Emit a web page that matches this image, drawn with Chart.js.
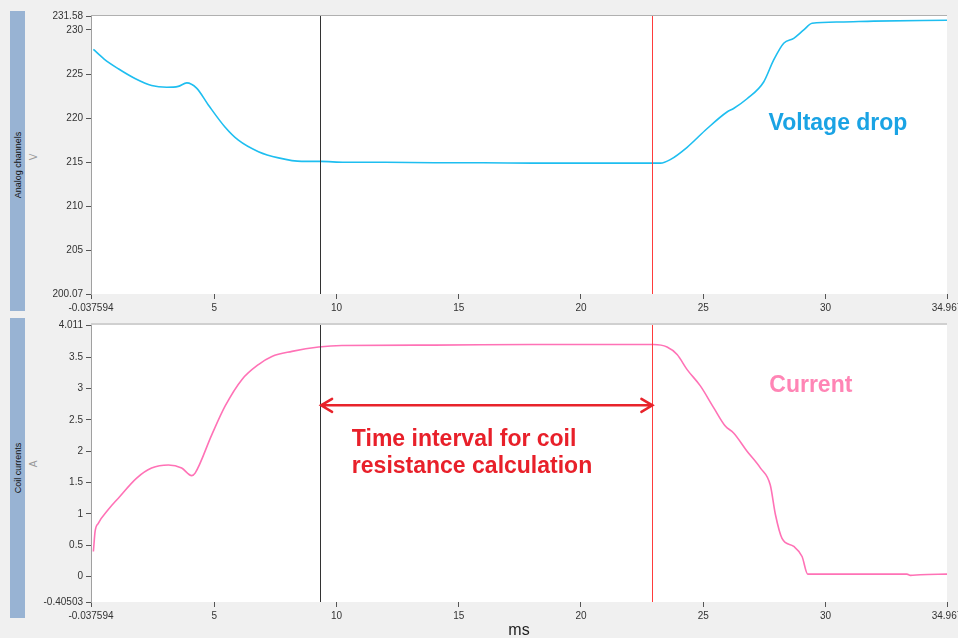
<!DOCTYPE html>
<html>
<head>
<meta charset="utf-8">
<script src="https://cdn.jsdelivr.net/npm/chart.js@4.4.1/dist/chart.umd.min.js"></script>
<style>
    body {
        margin: 0;
        width: 958px;
        height: 638px;
        overflow: hidden;
        background: #f0f0f0;
        font-family: "Liberation Sans", Arial, sans-serif;
        position: relative;
    }
    canvas {
        position: absolute;
        left: 0;
    }
    .strip {
        position: absolute;
        left: 10px;
        width: 15px;
        background: #98b3d3;
    }
    .vlabel {
        position: absolute;
        white-space: nowrap;
        transform: translate(-50%, -50%) rotate(-90deg);
        font-size: 9px;
        color: #111;
    }
    .unit {
        color: #999;
        font-size: 10px;
    }
    #msLabel {
        position: absolute;
        left: 519px;
        top: 622px;
        transform: translateX(-50%);
        font-size: 16px;
        line-height: 16px;
        color: #222;
    }
</style>
</head>
<body>
<div class="strip" style="top:11px;height:300px"></div>
<div class="strip" style="top:318px;height:300px"></div>
<div class="vlabel" style="left:18px;top:165px">Analog channels</div>
<div class="vlabel unit" style="left:33px;top:157px">V</div>
<div class="vlabel" style="left:18px;top:468px">Coil currents</div>
<div class="vlabel unit" style="left:33px;top:464px">A</div>

<canvas id="voltageChart" width="958" height="316" style="top:0"></canvas>
<canvas id="currentChart" width="958" height="322" style="top:316px"></canvas>
<div id="msLabel">ms</div>

<script>
// Time axis (ms)
const timeMin = -0.037594;
const timeMax = 34.967;
const timeTicks = [-0.037594, 5, 10, 15, 20, 25, 30, 34.967];

// Markers for the coil resistance interval
const intervalStart = 9.33;
const intervalEnd = 22.92;

// Voltage channel (V)
const voltageMin = 200.07;
const voltageMax = 231.58;
const voltageTicks = [200.07, 205, 210, 215, 220, 225, 230, 231.58];
const voltageTime = [0.06, 0.5, 1.08, 1.76, 2.44, 3.06, 3.53, 3.88, 4.28, 4.76, 5.44, 5.99, 6.81, 7.63, 8.58, 9.34, 10.35, 12, 14, 16, 18, 20, 21.6, 23.25, 23.65, 24.34, 25.15, 25.97, 26.24, 26.79, 27.47, 27.88, 28.29, 28.7, 29.11, 29.45, 30.6, 31.97, 34.967];
const voltageValues = [227.8, 226.7, 225.6, 224.5, 223.7, 223.5, 223.6, 224.0, 223.4, 221.5, 219.0, 217.5, 216.2, 215.5, 215.1, 215.1, 215.0, 215.0, 214.95, 214.95, 214.9, 214.9, 214.9, 214.9, 215.3, 216.7, 218.8, 220.7, 221.1, 222.2, 224.1, 226.6, 228.5, 229.05, 230.0, 230.75, 230.9, 231.0, 231.1];

// Coil current channel (A)
const currentMin = -0.40503;
const currentMax = 4.011;
const currentTicks = [-0.40503, 0, 0.5, 1, 1.5, 2, 2.5, 3, 3.5, 4.011];
const currentTime = [0.06, 0.13, 0.26, 0.67, 1.08, 1.83, 2.44, 3.13, 3.67, 4.08, 4.22, 4.9, 5.45, 6.13, 6.81, 7.36, 8.18, 9.27, 10.22, 14, 18, 22.97, 23.52, 23.93, 24.34, 24.88, 25.43, 25.9, 26.24, 26.79, 27.34, 27.74, 27.95, 28.22, 28.7, 29.04, 29.27, 33.33, 33.47, 33.88, 34.967];
const currentValues = [0.40, 0.72, 0.85, 1.07, 1.25, 1.57, 1.73, 1.78, 1.73, 1.61, 1.65, 2.26, 2.72, 3.14, 3.38, 3.51, 3.59, 3.66, 3.685, 3.69, 3.70, 3.70, 3.66, 3.54, 3.30, 3.04, 2.69, 2.40, 2.29, 2.00, 1.73, 1.46, 0.99, 0.61, 0.48, 0.32, 0.04, 0.04, 0.02, 0.03, 0.04];

const tickFont = { family: '"Liberation Sans", Arial, sans-serif', size: 10 };
const labelFont = 'bold 23px "Liberation Sans", Arial, sans-serif';

function toPoints(xs, ys) {
    return xs.map((x, i) => ({ x: x, y: ys[i] }));
}

function fixedTicks(values) {
    return scale => {
        scale.ticks = values.map(v => ({ value: v }));
    };
}

// White plot area with grey top edge
const plotBackground = {
    id: 'plotBackground',
    beforeDraw(chart, args, opts) {
        const { ctx, chartArea: a } = chart;
        ctx.save();
        ctx.fillStyle = '#ffffff';
        ctx.fillRect(a.left, a.top, a.right - a.left, a.bottom - a.top);
        ctx.fillStyle = opts.topColor;
        ctx.fillRect(a.left, a.top - opts.topWidth, a.right - a.left, opts.topWidth);
        ctx.restore();
    }
};

// Interval markers, arrow and text notes
const notes = {
    id: 'notes',
    afterDatasetsDraw(chart, args, opts) {
        const { ctx, chartArea: a } = chart;
        const xs = chart.scales.x;
        const ys = chart.scales.y;
        ctx.save();

        // vertical markers
        [[intervalStart, '#333333'], [intervalEnd, '#ff3b3b']].forEach(([t, color]) => {
            const px = Math.round(xs.getPixelForValue(t)) + 0.5;
            ctx.strokeStyle = color;
            ctx.lineWidth = 1;
            ctx.beginPath();
            ctx.moveTo(px, a.top);
            ctx.lineTo(px, a.bottom);
            ctx.stroke();
        });

        if (opts.arrowAt !== undefined) {
            const x1 = xs.getPixelForValue(intervalStart) + 1;
            const x2 = xs.getPixelForValue(intervalEnd);
            const y = ys.getPixelForValue(opts.arrowAt);
            ctx.strokeStyle = '#e8232b';
            ctx.lineWidth = 2.5;
            ctx.lineCap = 'round';
            ctx.beginPath();
            ctx.moveTo(x1, y);
            ctx.lineTo(x2, y);
            ctx.moveTo(x1 + 11, y - 6.5);
            ctx.lineTo(x1, y);
            ctx.lineTo(x1 + 11, y + 6.5);
            ctx.moveTo(x2 - 11, y - 6.5);
            ctx.lineTo(x2, y);
            ctx.lineTo(x2 - 11, y + 6.5);
            ctx.stroke();
        }

        (opts.texts || []).forEach(t => {
            ctx.font = labelFont;
            ctx.fillStyle = t.color;
            ctx.textBaseline = 'alphabetic';
            ctx.textAlign = 'left';
            const px = xs.getPixelForValue(t.x);
            const py = ys.getPixelForValue(t.y);
            t.lines.forEach((line, i) => ctx.fillText(line, px, py + i * 27));
        });

        ctx.restore();
    }
};

function buildOptions(yMin, yMax, yTicks, xHeight, padTop, notesOpts, bgOpts) {
    return {
        responsive: false,
        animation: false,
        layout: { padding: { top: padTop, right: 11, left: 0, bottom: 0 } },
        plugins: {
            legend: { display: false },
            tooltip: { enabled: false },
            notes: notesOpts,
            plotBackground: bgOpts
        },
        scales: {
            x: {
                type: 'linear',
                min: timeMin,
                max: timeMax,
                afterBuildTicks: fixedTicks(timeTicks),
                afterFit: scale => {
                    scale.height = xHeight;
                    scale.paddingLeft = 0;
                    scale.paddingRight = 0;
                },
                grid: { drawOnChartArea: false, drawTicks: true, tickLength: 5, color: '#555555' },
                border: { display: false },
                ticks: {
                    autoSkip: false,
                    maxRotation: 0,
                    padding: 3,
                    color: '#333333',
                    font: tickFont,
                    callback: v => String(v)
                }
            },
            y: {
                min: yMin,
                max: yMax,
                afterBuildTicks: fixedTicks(yTicks),
                afterFit: scale => {
                    scale.width = 91;
                    scale.paddingTop = 0;
                    scale.paddingBottom = 0;
                },
                grid: { drawOnChartArea: false, drawTicks: true, tickLength: 5, color: '#555555' },
                border: { display: true, color: '#a0a0a0' },
                ticks: {
                    autoSkip: false,
                    padding: 3,
                    color: '#333333',
                    font: tickFont,
                    callback: v => String(v)
                }
            }
        }
    };
}

// Voltage drop panel
const voltageChart = new Chart(document.getElementById('voltageChart'), {
    type: 'line',
    data: {
        datasets: [{
            label: 'V',
            data: toPoints(voltageTime, voltageValues),
            borderColor: '#1ebef0',
            borderWidth: 1.6,
            pointRadius: 0,
            cubicInterpolationMode: 'monotone',
            fill: false
        }]
    },
    options: buildOptions(voltageMin, voltageMax, voltageTicks, 22, 16, {
        texts: [{ x: 27.67, y: 218.7, color: '#1aa3e4', lines: ['Voltage drop'] }]
    }, { topColor: '#b0b0b0', topWidth: 1 }),
    plugins: [plotBackground, notes]
});

// Coil current panel
const currentChart = new Chart(document.getElementById('currentChart'), {
    type: 'line',
    data: {
        datasets: [{
            label: 'A',
            data: toPoints(currentTime, currentValues),
            borderColor: '#ff72b6',
            borderWidth: 1.6,
            pointRadius: 0,
            cubicInterpolationMode: 'monotone',
            fill: false
        }]
    },
    options: buildOptions(currentMin, currentMax, currentTicks, 36, 9, {
        arrowAt: 2.73,
        texts: [
            { x: 27.7, y: 2.94, color: '#ff85b5', lines: ['Current'] },
            { x: 10.63, y: 2.08, color: '#e8202a', lines: ['Time interval for coil', 'resistance calculation'] }
        ]
    }, { topColor: '#d0d0d0', topWidth: 2 }),
    plugins: [plotBackground, notes]
});
</script>
</body>
</html>
